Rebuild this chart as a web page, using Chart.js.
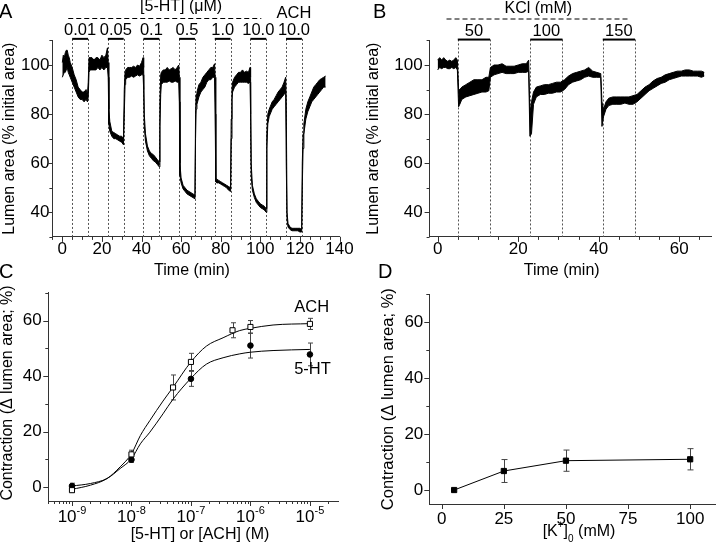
<!DOCTYPE html>
<html>
<head>
<meta charset="utf-8">
<title>Lumen area and contraction</title>
<script src="https://cdn.jsdelivr.net/npm/chart.js@4.4.1/dist/chart.umd.min.js"></script>
<style>
  body { margin: 0; width: 720px; height: 552px; background: #fff; position: relative; overflow: hidden; }
  canvas { position: absolute; }
  .tag { position: absolute; font: 20px/20px "Liberation Sans", Arial, sans-serif; color: #000; }
</style>
</head>
<body>
<canvas id="chartA" width="360" height="280" style="left:0;top:0"></canvas>
<canvas id="chartB" width="360" height="280" style="left:360px;top:0"></canvas>
<canvas id="chartC" width="360" height="276" style="left:0;top:276px"></canvas>
<canvas id="chartD" width="360" height="276" style="left:360px;top:276px"></canvas>
<div class="tag" style="left:-1px;top:1px">A</div>
<div class="tag" style="left:373px;top:1px">B</div>
<div class="tag" style="left:-1px;top:261px">C</div>
<div class="tag" style="left:378px;top:261px">D</div>
<script>
// ---- A: lumen area trace (min / max of the noisy band), 5-HT then ACH
const timeA = [0, 0.5, 1, 1.5, 2, 2.5, 3, 3.5, 4, 4.5, 5,
  6, 7, 8, 9, 10, 11, 12, 12.7, 13.1, 13.5,
  14, 15, 16, 17, 18, 19, 20, 21, 22, 22.8, 23.2,
  23.5, 24, 25, 26, 27, 28, 29, 30, 30.9, 31.3, 31.7,
  32, 33, 34, 35, 36, 37, 38, 39, 40, 40.8, 41.1,
  41.4, 42, 43, 44, 45, 46, 47, 48, 49, 49.3, 49.7,
  50, 51, 52, 53, 54, 55, 56, 57, 58, 58.8, 59.1,
  59.4, 60, 61, 62, 63, 64, 65, 66, 67, 67.3, 67.6,
  68, 69, 70, 71, 72, 73, 74, 75, 76, 76.9, 77.2,
  77.5, 78, 79, 80, 81, 82, 83, 84, 85, 85.3, 85.7,
  86, 87, 88, 89, 90, 91, 92, 93, 94, 94.8, 95.1,
  95.4, 96, 97, 98, 99, 100, 101, 102, 103, 103.3, 103.8,
  104.5, 105, 106, 107, 108, 109, 110, 111, 112, 112.8, 113.1,
  113.5, 114, 115, 116, 117, 118, 119, 120, 120.9, 121.2, 121.6,
  122, 123, 124, 125, 126, 127, 128, 129, 130, 131, 132, 133];
const lowA = [95, 96, 97, 97, 98, 99, 97, 96, 95, 94, 93,
  91, 89, 87, 86, 86, 85, 86, 85, 87, 97,
  98, 98, 98, 98, 99, 98, 99, 98, 99, 99, 95,
  76, 73, 71, 70, 70, 69.5, 69, 68.5, 67.5, 80, 92,
  94, 95, 95, 95.5, 95, 95.5, 96, 95.5, 96, 96, 90,
  75, 69, 65, 63, 62, 61, 60.5, 59.5, 58.5, 75, 88,
  92, 93, 93, 93, 93.5, 93, 93, 93.5, 93, 93, 85,
  55, 52, 49.5, 48.5, 47.5, 47, 46.5, 46, 45.5, 70, 82,
  84, 87, 89, 90, 91, 93, 94, 94, 95, 95, 80,
  52.5, 52, 52, 51.5, 51, 50.5, 50, 49, 48.5, 70, 86,
  89, 91, 92, 93, 93, 93, 93, 93, 92.5, 93, 80,
  55, 49, 46, 44, 43, 42, 41.5, 41, 40, 66, 76,
  79, 80, 82, 83, 84, 85, 86, 87, 88, 89, 60,
  37, 34, 33, 32.5, 32.5, 32.5, 32.5, 32, 32, 50, 66,
  72, 78, 81, 83, 85, 86, 87, 88, 89, 90, 91, 91];
const highA = [101, 104, 103, 105, 106, 106, 104, 103, 101, 100, 99,
  96, 94, 91, 90, 89, 89, 90, 88, 93, 103,
  103, 103, 102, 103, 103, 102, 104, 103, 104, 107, 101,
  82, 77, 73, 72.5, 72, 71.5, 71, 71, 70, 90, 97,
  98, 99, 99, 99, 99.5, 99, 100, 99.5, 101, 103, 99,
  80, 72, 67, 65, 64, 63.5, 62.5, 61.5, 60.5, 85, 96,
  97, 98, 98, 99, 98, 98.5, 99, 98, 99, 100, 95,
  60, 54, 51, 50, 49, 48.5, 48, 47.5, 47, 80, 88,
  89, 92, 93, 95, 96, 97, 98, 99, 99, 100.5, 95,
  54, 53.5, 53, 52.5, 52, 51.5, 51, 50.5, 50, 78, 90,
  93, 95, 96, 97, 97, 98, 97, 97.5, 97, 99, 95,
  60, 51, 47.5, 45.5, 44.5, 43.5, 43, 42.5, 41.5, 72, 80,
  82, 83, 85, 86, 87.5, 89, 90, 91, 93, 95, 85,
  40, 35.5, 34, 33.5, 33.5, 33.5, 33.5, 33.5, 33, 60, 72,
  76, 82, 85, 87, 89, 91, 92, 93, 94, 94.5, 95, 95.5];
const doseOnA = [5, 23, 41, 59, 77, 95, 113];
const doseOffA = [13, 31, 49, 67, 85, 103, 121];
const doseLabelsA = ['0.01', '0.05', '0.1', '0.5', '1.0', '10.0', '10.0'];
const xTicksA = [0, 20, 40, 60, 80, 100, 120, 140];
const yTicksAB = [40, 60, 80, 100];

// ---- B: lumen area trace, KCl
const timeB = [0, 0.5, 1, 1.5, 2, 2.5, 3, 3.5, 4, 4.5, 4.9,
  5.2, 5.5, 6, 7, 8, 9, 10, 11, 12, 12.7,
  13.1, 14, 15, 16, 17, 18, 19, 20, 21, 22, 22.6,
  22.9, 23.3, 23.8, 24.5, 25.5, 26.5, 27.5, 28.5, 29.5, 30.5, 31.5, 32.5, 33.5, 34.5, 35.5, 36.5, 37.5, 38.5, 39.5, 40.5,
  40.8, 41.2, 41.8, 42.5, 43.5, 44.5, 45.5, 46.5, 47.5, 48.5,
  49.5, 50.5, 51.5, 52.5, 53.5, 54.5, 55.5, 56.5, 57.5, 58.5, 59.5, 60.5, 61.5, 62.5, 63.5, 64.5, 65.5, 66.2];
const lowB = [98, 99, 98.5, 99, 99, 98.5, 98.5, 99, 98.5, 99, 98,
  83, 84, 86, 87, 87.5, 88, 88.5, 89, 89, 89.5,
  95, 96, 96.5, 97, 96.5, 96.5, 96.5, 97, 97, 97, 97.5,
  71, 72, 84, 87, 88, 88, 88.5, 88.5, 89, 89, 90, 92, 93, 93.5, 94, 95, 95.5, 95, 95, 95,
  75, 79, 82, 83.5, 84, 84, 84, 84.5, 84, 84,
  85, 86.5, 88, 89.5, 90.5, 91.5, 92.5, 93, 94, 94.5, 95, 95.5, 95.5, 95.5, 95.5, 95.5, 95, 95.5];
const highB = [102, 103, 102, 103, 102, 101.5, 102, 101.5, 102, 103, 102,
  90, 90, 91, 92, 93, 94, 94, 94, 95, 95,
  99, 100, 100, 100.5, 99.5, 99.5, 99.5, 100, 100.5, 100.5, 102,
  80, 85, 89, 91, 91.5, 92, 92, 92.5, 93, 93, 94, 95.5, 96.5, 97, 97.5, 98, 99, 97.5, 97, 96.5,
  85, 82, 85, 86.5, 87, 87, 87, 87, 87, 87.5,
  88, 89.5, 91, 92, 93.5, 94.5, 95, 96, 96.5, 97, 97.5, 97.5, 98, 98, 97.5, 97.5, 97.5, 97];
const doseOnB = [5, 23, 41];
const doseOffB = [13, 31, 49];
const doseLabelsB = ['50', '100', '150'];
const xTicksB = [0, 20, 40, 60];

// ---- C: concentration-response, 5-HT and ACH
const concAch = [1e-9, 1e-8, 5e-8, 1e-7, 5e-7, 1e-6, 1e-5];
const contrAch = [-1.1, 11.8, 35.9, 45.1, 56.5, 57.7, 58.8];
const errAch = [0.8, 1.5, 4.5, 3.1, 2.7, 2.3, 2.0];
const conc5ht = [1e-9, 1e-8, 1e-7, 1e-6, 1e-5];
const contr5ht = [0.4, 9.9, 39.0, 51.0, 47.8];
const err5ht = [1.0, 1.0, 2.7, 4.5, 4.1];
const fitLogConc = [-9, -8.69, -8.41, -8.19, -8, -7.85, -7.69, -7.47, -7.3, -7, -6.74, -6.46, -6.18, -6, -5.62, -5];
const fitAch = [-0.8, 0.7, 3.1, 7.3, 12.0, 18.6, 24.0, 31.0, 36.0, 45.1, 50.8, 53.8, 56.4, 57.2, 58.4, 58.9];
const fit5ht = [0.4, 1.3, 3.1, 6.7, 10.2, 15.6, 19.8, 26.4, 31.7, 39.2, 44.3, 46.6, 48.0, 48.6, 49.2, 49.6];
const xExpC = [-9, -8, -7, -6, -5];
const yTicksCD = [0, 20, 40, 60];

// ---- D: contraction vs [K+]o
const kConc = [5, 25, 50, 100];
const kContr = [0, 6.8, 10.5, 11.0];
const kErr = [0, 4.1, 3.8, 3.8];
const xTicksD = [0, 25, 50, 75, 100];

const FONT = '"Liberation Sans", Arial, Helvetica, sans-serif';
const AXIS = '#333';
const TICK_SIZE = 17;
Chart.defaults.font.family = FONT;
Chart.defaults.font.size = TICK_SIZE;
Chart.defaults.color = '#000';

function pts(xs, ys) {
  return xs.map((x, i) => ({x: x, y: ys[i]}));
}

function steps(a, b, s) {
  const out = [];
  for (let v = a; v <= b + 1e-9; v += s) out.push(+v.toFixed(6));
  return out;
}

function text(ctx, str, x, y, rot, size) {
  ctx.save();
  ctx.font = (size || 16) + 'px ' + FONT;
  ctx.fillStyle = '#000';
  ctx.textAlign = 'center';
  ctx.textBaseline = 'middle';
  ctx.translate(x, y);
  if (rot) ctx.rotate(rot);
  ctx.fillText(str, 0, 0);
  ctx.restore();
}

// pieces: [string, '' | 'sup' | 'sub'], centred on cx
function richText(ctx, pieces, cx, cy, size) {
  const small = Math.round(size * 0.65);
  ctx.save();
  ctx.fillStyle = '#000';
  ctx.textAlign = 'left';
  ctx.textBaseline = 'middle';
  const widths = pieces.map(p => {
    ctx.font = (p[1] ? small : size) + 'px ' + FONT;
    return ctx.measureText(p[0]).width;
  });
  let x = cx - widths.reduce((a, b) => a + b, 0) / 2;
  pieces.forEach((p, i) => {
    ctx.font = (p[1] ? small : size) + 'px ' + FONT;
    const dy = p[1] === 'sup' ? -size * 0.4 : (p[1] === 'sub' ? size * 0.45 : 0);
    ctx.fillText(p[0], x, cy + dy);
    x += widths[i];
  });
  ctx.restore();
}

// outward tick marks
function tickMarks(ctx, scale, values, len) {
  ctx.save();
  ctx.strokeStyle = AXIS;
  ctx.lineWidth = 1;
  ctx.beginPath();
  values.forEach(v => {
    const p = Math.round(scale.getPixelForValue(v)) + 0.5;
    if (scale.isHorizontal()) {
      ctx.moveTo(p, scale.top);
      ctx.lineTo(p, scale.top + len);
    } else {
      ctx.moveTo(scale.right, p);
      ctx.lineTo(scale.right - len, p);
    }
  });
  ctx.stroke();
  ctx.restore();
}

function dropLines(ctx, x, times, top, bottom) {
  ctx.save();
  ctx.strokeStyle = '#555';
  ctx.lineWidth = 1;
  ctx.setLineDash([2, 2]);
  ctx.beginPath();
  times.forEach(t => {
    const p = Math.round(x.getPixelForValue(t)) + 0.5;
    ctx.moveTo(p, top);
    ctx.lineTo(p, bottom);
  });
  ctx.stroke();
  ctx.restore();
}

function dashedH(ctx, x0, x1, y) {
  ctx.save();
  ctx.strokeStyle = '#000';
  ctx.lineWidth = 1;
  ctx.setLineDash([5, 3]);
  ctx.beginPath();
  ctx.moveTo(x0, y);
  ctx.lineTo(x1, y);
  ctx.stroke();
  ctx.restore();
}

function doseBars(ctx, x, on, off, labels, top) {
  ctx.save();
  ctx.fillStyle = '#000';
  on.forEach((t0, i) => {
    const x0 = x.getPixelForValue(t0), x1 = x.getPixelForValue(off[i]);
    ctx.fillRect(x0, top - 2.6, x1 - x0, 2);
    text(ctx, labels[i], (x0 + x1) / 2, top - 10, 0, 16.5);
  });
  ctx.restore();
}

function errorBars(ctx, xs, ys, xv, yv, ev, cap) {
  ctx.save();
  ctx.strokeStyle = '#444';
  ctx.lineWidth = 1;
  ctx.beginPath();
  xv.forEach((v, i) => {
    if (!ev[i]) return;
    const px = Math.round(xs.getPixelForValue(v)) + 0.5;
    const y0 = ys.getPixelForValue(yv[i] - ev[i]);
    const y1 = ys.getPixelForValue(yv[i] + ev[i]);
    ctx.moveTo(px, y0); ctx.lineTo(px, y1);
    ctx.moveTo(px - cap, y0); ctx.lineTo(px + cap, y0);
    ctx.moveTo(px - cap, y1); ctx.lineTo(px + cap, y1);
  });
  ctx.stroke();
  ctx.restore();
}

function axis(type, min, max, tickVals, size, pad, horizontal, showLabels) {
  return {
    type: type, min: min, max: max,
    grid: {display: false, drawTicks: false},
    border: {display: true, color: AXIS, width: 1},
    ticks: {display: showLabels !== false, padding: pad, color: '#000', font: {size: TICK_SIZE}},
    afterBuildTicks: s => { s.ticks = tickVals.map(v => ({value: v})); },
    afterFit: s => { if (horizontal) s.height = size; else s.width = size; }
  };
}

function options(padding, xAxis, yAxis) {
  return {
    responsive: false,
    animation: false,
    events: [],
    layout: {padding: padding},
    plugins: {legend: {display: false}, tooltip: {enabled: false}},
    scales: {x: xAxis, y: yAxis}
  };
}

function band(t, lo, hi) {
  return [
    {data: pts(t, lo), borderColor: '#000', borderWidth: 1, pointRadius: 0, fill: false},
    {data: pts(t, hi), borderColor: '#000', borderWidth: 1, pointRadius: 0, fill: '-1', backgroundColor: '#000'}
  ];
}

// ---------- A
new Chart(document.getElementById('chartA'), {
  type: 'line',
  data: {datasets: band(timeA, lowA, highA)},
  options: options({left: 0, top: 40.45, right: 20.5, bottom: 0},
    axis('linear', -5, 140, xTicksA, 43.1, 2.4, true),
    axis('linear', 30, 110, yTicksAB, 52.4, 3, false)),
  plugins: [{
    id: 'decorA',
    beforeDatasetsDraw(chart) {
      const {ctx, chartArea: ca, scales: {x}} = chart;
      dropLines(ctx, x, doseOnA.concat(doseOffA), ca.top - 1.5, ca.bottom);
    },
    afterDraw(chart) {
      const {ctx, chartArea: ca, scales: {x, y}} = chart;
      tickMarks(ctx, x, steps(-5, 140, 5), 3);
      tickMarks(ctx, x, xTicksA, 5);
      tickMarks(ctx, y, steps(30, 110, 10), 3);
      tickMarks(ctx, y, yTicksAB, 5);
      doseBars(ctx, x, doseOnA, doseOffA, doseLabelsA, ca.top);
      dashedH(ctx, x.getPixelForValue(3), x.getPixelForValue(100.5), 18.5);
      text(ctx, '[5-HT] (μM)', x.getPixelForValue(60), 7);
      text(ctx, 'ACH', x.getPixelForValue(117), 13, 0, 16.5);
      text(ctx, 'Time (min)', 192, 270.5);
      text(ctx, 'Lumen area (% initial area)', 9.5, (ca.top + ca.bottom) / 2, -Math.PI / 2);
    }
  }]
});

// ---------- B
new Chart(document.getElementById('chartB'), {
  type: 'line',
  data: {datasets: band(timeB, lowB, highB)},
  options: options({left: 0, top: 40.45, right: 8.5, bottom: 0},
    axis('linear', -2, 68, xTicksB, 43.1, 2.4, true),
    axis('linear', 30, 110, yTicksAB, 69.6, 7, false)),
  plugins: [{
    id: 'decorB',
    beforeDatasetsDraw(chart) {
      const {ctx, chartArea: ca, scales: {x}} = chart;
      dropLines(ctx, x, doseOnB.concat(doseOffB), ca.top - 1, ca.bottom);
    },
    afterDraw(chart) {
      const {ctx, chartArea: ca, scales: {x, y}} = chart;
      tickMarks(ctx, x, steps(0, 65, 5), 3);
      tickMarks(ctx, x, xTicksB, 5);
      tickMarks(ctx, y, steps(30, 110, 10), 3);
      tickMarks(ctx, y, yTicksAB, 5);
      doseBars(ctx, x, doseOnB, doseOffB, doseLabelsB, ca.top + 0.7);
      dashedH(ctx, x.getPixelForValue(2.2), x.getPixelForValue(47.3), 19);
      text(ctx, 'KCl (mM)', x.getPixelForValue(25), 8.5);
      text(ctx, 'Time (min)', 201.7, 270.5);
      text(ctx, 'Lumen area (% initial area)', 13.3, (ca.top + ca.bottom) / 2, -Math.PI / 2);
    }
  }]
});

// ---------- C
new Chart(document.getElementById('chartC'), {
  type: 'line',
  data: {datasets: [
    {data: pts(concAch, contrAch), showLine: false, pointStyle: 'rect', pointRadius: 3.6,
     pointBackgroundColor: '#fff', pointBorderColor: '#000', pointBorderWidth: 1, order: 0},
    {data: pts(conc5ht, contr5ht), showLine: false, pointStyle: 'circle', pointRadius: 2.8,
     pointBackgroundColor: '#000', pointBorderColor: '#000', pointBorderWidth: 1, order: 0},
    {data: pts(fitLogConc.map(e => Math.pow(10, e)), fitAch), borderColor: '#000', borderWidth: 1,
     pointRadius: 0, cubicInterpolationMode: 'monotone', order: 1},
    {data: pts(fitLogConc.map(e => Math.pow(10, e)), fit5ht), borderColor: '#000', borderWidth: 1,
     pointRadius: 0, cubicInterpolationMode: 'monotone', order: 1}
  ]},
  options: options({left: 0, top: 15.35, right: 21.7, bottom: 0},
    axis('logarithmic', 4e-10, 3e-5, xExpC.map(e => Math.pow(10, e)), 51, 0, true, false),
    axis('linear', -5, 70, yTicksCD, 48.3, 6.6, false)),
  plugins: [{
    id: 'decorC',
    beforeDatasetsDraw(chart) {
      const {ctx, scales: {x, y}} = chart;
      errorBars(ctx, x, y, concAch, contrAch, errAch, 2.5);
      errorBars(ctx, x, y, conc5ht, contr5ht, err5ht, 2.5);
    },
    afterDraw(chart) {
      const {ctx, scales: {x, y}} = chart;
      const minor = [];
      for (let k = -10; k <= -5; k++) {
        for (let m = 2; m <= 9; m++) {
          const v = m * Math.pow(10, k);
          if (v >= 4e-10 && v <= 3e-5) minor.push(v);
        }
      }
      tickMarks(ctx, x, minor, 3);
      tickMarks(ctx, x, xExpC.map(e => Math.pow(10, e)), 5);
      tickMarks(ctx, y, [10, 30, 50, 70], 3);
      tickMarks(ctx, y, yTicksCD, 5);
      xExpC.forEach(e => {
        richText(ctx, [['10', ''], [String(e), 'sup']], x.getPixelForValue(Math.pow(10, e)), 241.5, TICK_SIZE);
      });
      text(ctx, 'ACH', 311.7, 31.5, 0, 16.5);
      text(ctx, '5-HT', 312.5, 93, 0, 16.5);
      text(ctx, '[5-HT] or [ACH] (M)', 200, 259);
      text(ctx, 'Contraction (\u0394 lumen area; %)', 7.5, 117, -Math.PI / 2, 16);
    }
  }]
});

// ---------- D
new Chart(document.getElementById('chartD'), {
  type: 'line',
  data: {datasets: [
    {data: pts(kConc, kContr), borderColor: '#000', borderWidth: 1, pointStyle: 'rect', pointRadius: 3.7,
     pointBackgroundColor: '#000', pointBorderColor: '#000', pointBorderWidth: 1}
  ]},
  options: options({left: 0, top: 18.35, right: 1.5, bottom: 0},
    axis('linear', -5, 110, xTicksD, 48, 4.8, true),
    axis('linear', -5, 70, yTicksCD, 69.3, 6, false)),
  plugins: [{
    id: 'decorD',
    beforeDatasetsDraw(chart) {
      const {ctx, scales: {x, y}} = chart;
      errorBars(ctx, x, y, kConc, kContr, kErr, 3);
    },
    afterDraw(chart) {
      const {ctx, chartArea: ca, scales: {x, y}} = chart;
      tickMarks(ctx, x, xTicksD, 5);
      tickMarks(ctx, y, [10, 30, 50, 70], 3);
      tickMarks(ctx, y, yTicksCD, 5);
      richText(ctx, [['[K', ''], ['+', 'sup'], [']', ''], ['0', 'sub'], [' (mM)', '']], 219, 256, 16);
      text(ctx, 'Contraction (\u0394 lumen area; %)', 28.3, (ca.top + ca.bottom) / 2, -Math.PI / 2, 16.5);
    }
  }]
});
</script>
</body>
</html>
